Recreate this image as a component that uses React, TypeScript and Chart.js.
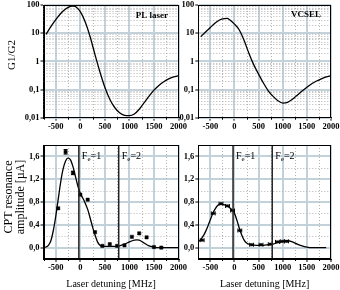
import React, { useEffect, useRef } from "react";
import { Chart, registerables } from "chart.js";

Chart.register(...registerables);

// ---------------- data ----------------
const X_TICKS = [-500, 0, 500, 1000, 1500, 2000];
const X_MINOR = [-750, -250, 250, 750, 1250, 1750];
const LOG_TICKS = [0.01, 0.1, 1, 10, 100];
const LOG_MINOR = [
  0.02, 0.03, 0.04, 0.05, 0.06, 0.07, 0.08, 0.09,
  0.2, 0.3, 0.4, 0.5, 0.6, 0.7, 0.8, 0.9,
  2, 3, 4, 5, 6, 7, 8, 9,
  20, 30, 40, 50, 60, 70, 80, 90,
];
const AMP_TICKS = [0, 0.4, 0.8, 1.2, 1.6];
const AMP_MINOR = [0.2, 0.6, 1.0, 1.4];
const F_LINES = [-30, 782];
const F_NAMES = ["1", "2"];

// G1/G2 curves (top panels)
const G_DETUNING = [
  -700, -600, -500, -400, -300, -200, -150, -100, 0, 100, 200, 300, 400, 500, 600,
  700, 800, 900, 1000, 1100, 1200, 1300, 1400, 1500, 1600, 1700, 1800, 1900, 2000,
];
const PL_G1G2 = [
  9, 17, 30, 50, 72, 89, 92, 88, 58, 25, 7.5, 1.7, 0.42, 0.12, 0.045,
  0.023, 0.015, 0.0122, 0.0118, 0.0135, 0.02, 0.034, 0.058, 0.095, 0.14, 0.19, 0.24, 0.28, 0.31,
];
const VCSEL_G1G2 = [
  7.5, 11, 16, 23, 30, 33, 33.5, 30, 21, 13, 5.5, 1.9, 0.75, 0.35, 0.17,
  0.09, 0.057, 0.04, 0.033, 0.035, 0.045, 0.063, 0.088, 0.12, 0.16, 0.2, 0.24, 0.28, 0.31,
];

// CPT amplitude, PL laser (bottom-left)
const PL_FIT_X = [
  -750, -700, -650, -600, -550, -500, -450, -400, -350, -300, -250, -200, -150, -100, -50,
  0, 50, 100, 150, 200, 250, 300, 350, 400, 450, 500, 600, 700, 800, 900, 1000, 1100,
  1150, 1200, 1300, 1400, 1500, 1600, 1800, 2000,
];
const PL_FIT_Y = [
  0.0, 0.01, 0.04, 0.12, 0.3, 0.55, 0.85, 1.15, 1.38, 1.52, 1.57, 1.54, 1.42, 1.25, 1.08,
  0.95, 0.87, 0.78, 0.67, 0.52, 0.36, 0.22, 0.1, 0.04, 0.02, 0.02, 0.02, 0.02, 0.03, 0.06, 0.1, 0.13,
  0.135, 0.13, 0.08, 0.03, 0.01, 0.0, 0.0, 0.0,
];
const PL_DATA_X = [-450, -300, -150, 0, 150, 300, 450, 600, 750, 900, 1050, 1200, 1350, 1500, 1650];
const PL_DATA_Y = [0.69, 1.68, 1.31, 0.93, 0.84, 0.27, 0.03, 0.06, 0.03, 0.04, 0.19, 0.25, 0.18, 0.01, 0.0];
const PL_DATA_YERR = [0, 0.04, 0.03, 0, 0, 0, 0, 0, 0, 0, 0, 0, 0, 0, 0];

// CPT amplitude, VCSEL (bottom-right)
const VC_FIT_X = [
  -730, -700, -650, -600, -550, -500, -450, -400, -350, -300, -250, -200, -150, -100, -50,
  0, 50, 100, 150, 200, 250, 300, 350, 400, 500, 600, 700, 800, 900, 1000, 1100,
  1200, 1300, 1400, 1500, 1600, 1700, 1800, 1900,
];
const VC_FIT_Y = [
  0.11, 0.14, 0.2, 0.28, 0.38, 0.49, 0.6, 0.68, 0.74, 0.76, 0.76, 0.75, 0.73, 0.7, 0.66,
  0.6, 0.48, 0.34, 0.22, 0.13, 0.08, 0.06, 0.05, 0.045, 0.04, 0.04, 0.05, 0.06, 0.09, 0.11, 0.12,
  0.1, 0.06, 0.03, 0.01, 0.0, 0.0, 0.0, 0.0,
];
const VC_DATA_X = [-670, -440, -280, -145, -40, 110, 355, 550, 740, 890, 990, 1080];
const VC_DATA_Y = [0.13, 0.6, 0.77, 0.73, 0.65, 0.3, 0.05, 0.05, 0.06, 0.1, 0.11, 0.11];
const VC_DATA_XERR = [40, 40, 40, 40, 40, 40, 40, 40, 40, 40, 40, 40];

// ---------------- styling ----------------
const SERIF = "'Liberation Serif', 'Times New Roman', serif";
const MAJOR = "#c3d1db";
const MINOR = "#b4b4b4";
const tickFont = { family: SERIF, size: 8.5, weight: "bold" as const };

const pts = (xs: number[], ys: number[]) => xs.map((x, i) => ({ x, y: ys[i] }));

function xScale(xHeight: number, withTitle: boolean) {
  return {
    type: "linear",
    min: -750,
    max: 2000,
    afterBuildTicks: (s: any) => {
      s.ticks = X_TICKS.map((v) => ({ value: v }));
    },
    afterFit: (s: any) => {
      s.height = xHeight;
      s.paddingLeft = 0;
      s.paddingRight = 0;
    },
    ticks: {
      font: tickFont,
      color: "#000",
      padding: 1,
      maxRotation: 0,
      autoSkip: false,
      callback: (v: any) => String(v),
    },
    grid: { color: MAJOR, lineWidth: 2, tickColor: "#000", tickLength: 3, tickWidth: 1 },
    border: { display: true, color: "#000", width: 1 },
    title: withTitle
      ? {
          display: true,
          text: "Laser detuning [MHz]",
          font: { family: SERIF, size: 10 },
          color: "#000",
          padding: { top: 0, bottom: 0 },
        }
      : { display: false },
  };
}

function yScale(kind: "log" | "amp", yWidth: number) {
  const base: any = {
    afterFit: (s: any) => {
      s.width = yWidth;
      s.paddingTop = 0;
      s.paddingBottom = 0;
    },
    grid: { color: MAJOR, lineWidth: 2, tickColor: "#000", tickLength: 3, tickWidth: 1 },
    border: { display: true, color: "#000", width: 1 },
  };
  if (kind === "log") {
    return {
      ...base,
      type: "logarithmic",
      min: 0.01,
      max: 100,
      afterBuildTicks: (s: any) => {
        s.ticks = LOG_TICKS.map((v) => ({ value: v }));
      },
      ticks: {
        font: tickFont,
        color: "#000",
        padding: 1,
        autoSkip: false,
        callback: (v: any) => String(v).replace(".", ","),
      },
    };
  }
  return {
    ...base,
    type: "linear",
    min: -0.2,
    max: 1.8,
    afterBuildTicks: (s: any) => {
      s.ticks = AMP_TICKS.map((v) => ({ value: v }));
    },
    ticks: {
      font: tickFont,
      color: "#000",
      padding: 1,
      autoSkip: false,
      callback: (v: any) => Number(v).toFixed(1).replace(".", ","),
    },
  };
}

type Decor = {
  yMinor: number[];
  fLines?: boolean;
  yErr?: { xs: number[]; ys: number[]; e: number[] };
  xErr?: { xs: number[]; ys: number[]; e: number[] };
  label?: { text: string; right: number; base: number };
  yTitle?: { lines: string[]; x: number; y: number; size: number; gap: number };
};

function decorPlugin(d: Decor) {
  return {
    id: "decor",
    beforeDatasetsDraw(chart: any) {
      const { ctx, chartArea: a, scales } = chart;
      const x = scales.x;
      const y = scales.y;
      ctx.save();
      ctx.beginPath();
      ctx.rect(a.left, a.top, a.right - a.left, a.bottom - a.top);
      ctx.clip();
      ctx.strokeStyle = MINOR;
      ctx.lineWidth = 1;
      ctx.setLineDash([1, 2]);
      for (const v of X_MINOR) {
        const px = Math.round(x.getPixelForValue(v)) + 0.5;
        ctx.beginPath();
        ctx.moveTo(px, a.top);
        ctx.lineTo(px, a.bottom);
        ctx.stroke();
      }
      for (const v of d.yMinor) {
        const py = Math.round(y.getPixelForValue(v)) + 0.5;
        ctx.beginPath();
        ctx.moveTo(a.left, py);
        ctx.lineTo(a.right, py);
        ctx.stroke();
      }
      ctx.restore();
      // minor ticks on x axis
      ctx.save();
      ctx.strokeStyle = "#000";
      ctx.lineWidth = 1;
      for (const v of X_MINOR) {
        const px = Math.round(x.getPixelForValue(v)) + 0.5;
        if (px < a.left + 1) continue;
        ctx.beginPath();
        ctx.moveTo(px, a.bottom);
        ctx.lineTo(px, a.bottom + 2);
        ctx.stroke();
      }
      ctx.restore();
    },
    afterDatasetsDraw(chart: any) {
      const { ctx, chartArea: a, scales } = chart;
      const x = scales.x;
      const y = scales.y;
      ctx.save();
      ctx.strokeStyle = "#000";
      ctx.lineWidth = 1;
      if (d.yErr) {
        const { xs, ys, e } = d.yErr;
        xs.forEach((xv, i) => {
          if (!e[i]) return;
          const px = x.getPixelForValue(xv);
          const p1 = y.getPixelForValue(ys[i] - e[i]);
          const p2 = y.getPixelForValue(ys[i] + e[i]);
          ctx.beginPath();
          ctx.moveTo(px, p1);
          ctx.lineTo(px, p2);
          ctx.moveTo(px - 2, p1);
          ctx.lineTo(px + 2, p1);
          ctx.moveTo(px - 2, p2);
          ctx.lineTo(px + 2, p2);
          ctx.stroke();
        });
      }
      if (d.xErr) {
        const { xs, ys, e } = d.xErr;
        xs.forEach((xv, i) => {
          const py = y.getPixelForValue(ys[i]);
          const p1 = x.getPixelForValue(xv - e[i]);
          const p2 = x.getPixelForValue(xv + e[i]);
          ctx.beginPath();
          ctx.moveTo(p1, py);
          ctx.lineTo(p2, py);
          ctx.moveTo(p1, py - 2);
          ctx.lineTo(p1, py + 2);
          ctx.moveTo(p2, py - 2);
          ctx.lineTo(p2, py + 2);
          ctx.stroke();
        });
      }
      if (d.fLines) {
        ctx.strokeStyle = "#222";
        ctx.lineWidth = 1.5;
        F_LINES.forEach((fv, i) => {
          const px = x.getPixelForValue(fv);
          ctx.beginPath();
          ctx.moveTo(px, a.top);
          ctx.lineTo(px, a.bottom);
          ctx.stroke();
          ctx.fillStyle = "#000";
          ctx.textBaseline = "alphabetic";
          ctx.textAlign = "left";
          const base = a.top + 13.5;
          let cx = px + 3;
          ctx.font = `10px ${SERIF}`;
          ctx.fillText("F", cx, base);
          cx += ctx.measureText("F").width;
          ctx.font = `7px ${SERIF}`;
          ctx.fillText("e", cx, base + 2.5);
          cx += ctx.measureText("e").width;
          ctx.font = `10px ${SERIF}`;
          ctx.fillText("=" + F_NAMES[i], cx, base);
        });
      }
      // frame
      ctx.strokeStyle = "#000";
      ctx.lineWidth = 1;
      ctx.strokeRect(
        Math.round(a.left) + 0.5,
        Math.round(a.top) + 0.5,
        Math.round(a.right - a.left) - 1,
        Math.round(a.bottom - a.top) - 1
      );
      ctx.restore();
    },
    afterDraw(chart: any) {
      const { ctx } = chart;
      ctx.save();
      ctx.fillStyle = "#000";
      if (d.label) {
        ctx.font = `bold 9px ${SERIF}`;
        ctx.textAlign = "right";
        ctx.textBaseline = "alphabetic";
        ctx.fillText(d.label.text, d.label.right, d.label.base);
      }
      if (d.yTitle) {
        const t = d.yTitle;
        ctx.font = `${t.size}px ${SERIF}`;
        ctx.textAlign = "center";
        ctx.textBaseline = "middle";
        t.lines.forEach((line, i) => {
          ctx.save();
          ctx.translate(t.x + i * t.gap, t.y);
          ctx.rotate(-Math.PI / 2);
          ctx.fillText(line, 0, 0);
          ctx.restore();
        });
      }
      ctx.restore();
    },
  };
}

type PanelProps = {
  left: number;
  top: number;
  width: number;
  height: number;
  build: () => any;
};

function Panel({ left, top, width, height, build }: PanelProps) {
  const ref = useRef<HTMLCanvasElement>(null);
  useEffect(() => {
    const chart = new Chart(ref.current as HTMLCanvasElement, build());
    return () => chart.destroy();
  }, []);
  return (
    <canvas
      ref={ref}
      width={width}
      height={height}
      style={{ position: "absolute", left, top, width, height }}
    />
  );
}

function config(opts: {
  kind: "log" | "amp";
  padTop: number;
  padRight: number;
  yWidth: number;
  xHeight: number;
  xTitle: boolean;
  datasets: any[];
  decor: Decor;
}) {
  return {
    type: "scatter",
    data: { datasets: opts.datasets },
    options: {
      responsive: false,
      animation: false,
      devicePixelRatio: 1,
      layout: { padding: { left: 0, top: opts.padTop, right: opts.padRight, bottom: 0 } },
      plugins: { legend: { display: false }, tooltip: { enabled: false } },
      scales: {
        x: xScale(opts.xHeight, opts.xTitle),
        y: yScale(opts.kind, opts.yWidth),
      },
    },
    plugins: [decorPlugin(opts.decor)],
  };
}

const curve = (xs: number[], ys: number[]) => ({
  data: pts(xs, ys),
  showLine: true,
  pointRadius: 0,
  borderColor: "#000",
  borderWidth: 1.3,
  cubicInterpolationMode: "monotone",
  fill: false,
});

const markers = (xs: number[], ys: number[], r: number) => ({
  data: pts(xs, ys),
  showLine: false,
  pointStyle: "rect",
  pointRadius: r,
  backgroundColor: "#000",
  borderColor: "#000",
  borderWidth: 0.5,
});

export default function App() {
  return (
    <div
      style={{
        position: "fixed",
        left: 0,
        top: 0,
        width: 340,
        height: 290,
        background: "#fff",
        overflow: "hidden",
      }}
    >
      <Panel
        left={0}
        top={0}
        width={190}
        height={140}
        build={() =>
          config({
            kind: "log",
            padTop: 5,
            padRight: 11.5,
            yWidth: 43.5,
            xHeight: 22.3,
            xTitle: false,
            datasets: [curve(G_DETUNING, PL_G1G2)],
            decor: {
              yMinor: LOG_MINOR,
              label: { text: "PL laser", right: 168, base: 17.5 },
              yTitle: { lines: ["G1/G2"], x: 12.5, y: 55, size: 11, gap: 0 },
            },
          })
        }
      />
      <Panel
        left={170}
        top={0}
        width={170}
        height={140}
        build={() =>
          config({
            kind: "log",
            padTop: 5,
            padRight: 9,
            yWidth: 28.3,
            xHeight: 22.3,
            xTitle: false,
            datasets: [curve(G_DETUNING, VCSEL_G1G2)],
            decor: {
              yMinor: LOG_MINOR,
              label: { text: "VCSEL", right: 151, base: 17 },
            },
          })
        }
      />
      <Panel
        left={0}
        top={140}
        width={190}
        height={150}
        build={() =>
          config({
            kind: "amp",
            padTop: 5,
            padRight: 11.5,
            yWidth: 43.5,
            xHeight: 31,
            xTitle: true,
            datasets: [curve(PL_FIT_X, PL_FIT_Y), markers(PL_DATA_X, PL_DATA_Y, 2.3)],
            decor: {
              yMinor: AMP_MINOR,
              fLines: true,
              yErr: { xs: PL_DATA_X, ys: PL_DATA_Y, e: PL_DATA_YERR },
              yTitle: {
                lines: ["CPT resonance", "amplitude [\u00b5A]"],
                x: 8.5,
                y: 57,
                size: 12,
                gap: 12.5,
              },
            },
          })
        }
      />
      <Panel
        left={170}
        top={140}
        width={170}
        height={150}
        build={() =>
          config({
            kind: "amp",
            padTop: 5,
            padRight: 9,
            yWidth: 28.3,
            xHeight: 31,
            xTitle: true,
            datasets: [curve(VC_FIT_X, VC_FIT_Y), markers(VC_DATA_X, VC_DATA_Y, 1.6)],
            decor: {
              yMinor: AMP_MINOR,
              fLines: true,
              xErr: { xs: VC_DATA_X, ys: VC_DATA_Y, e: VC_DATA_XERR },
            },
          })
        }
      />
    </div>
  );
}
